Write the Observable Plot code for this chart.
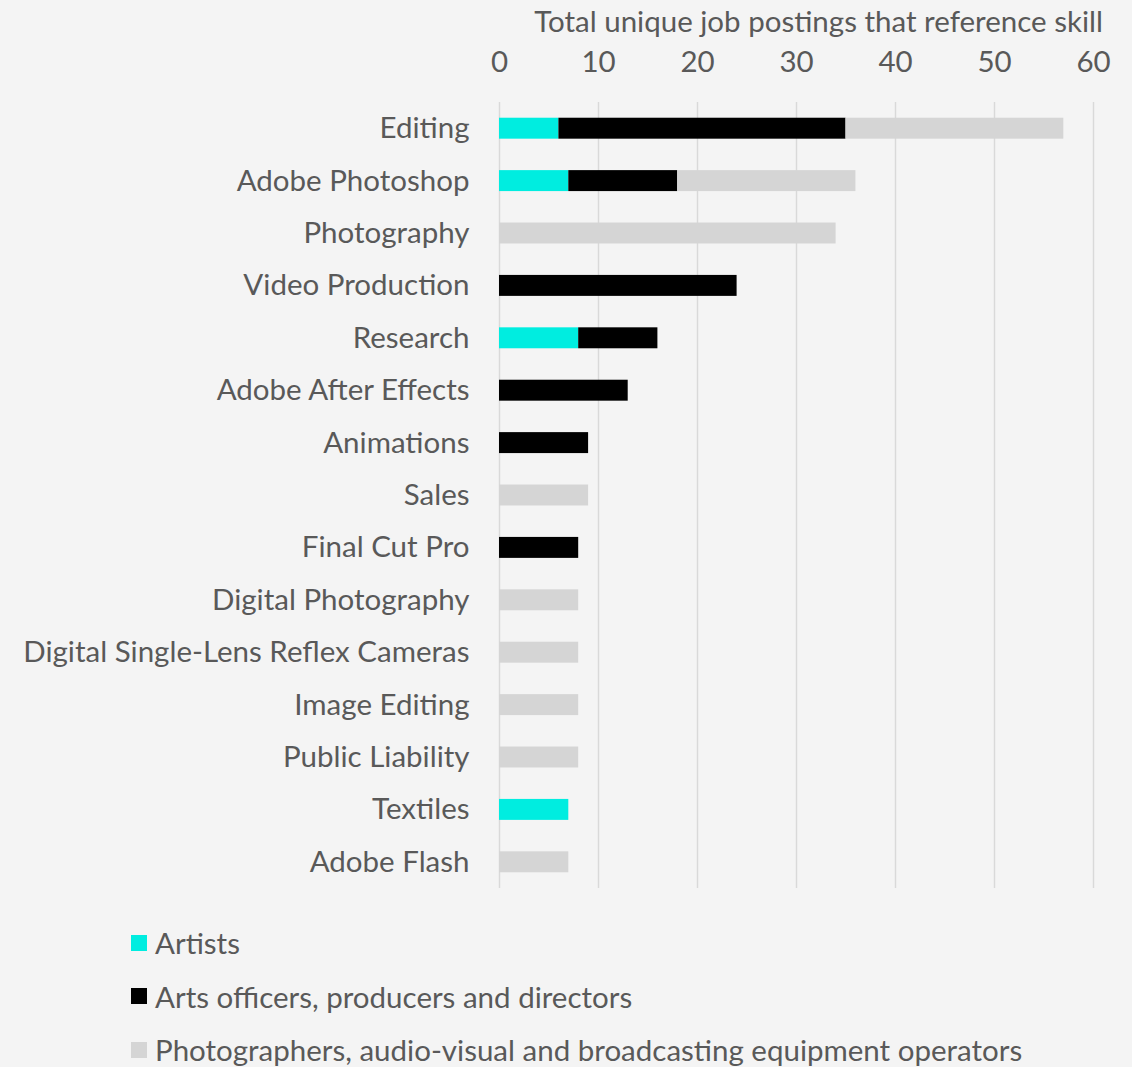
<!DOCTYPE html>
<html>
<head>
<meta charset="utf-8">
<script src="https://cdn.jsdelivr.net/npm/d3@7"></script>
<script src="https://cdn.jsdelivr.net/npm/@observablehq/plot@0.6"></script>
<style>
  html, body { margin: 0; padding: 0; background: #f4f4f4; }
  body { width: 1132px; height: 1067px; position: relative; overflow: hidden; font-family: Lato, "Open Sans", sans-serif; color: #595959; }
  #title { position: absolute; right: 29px; top: 3px; font-size: 29.5px; white-space: nowrap; }
  #chart { position: absolute; left: 0; top: 0; }
  #legend { position: absolute; left: 131px; top: 916px; font-size: 29.5px; }
  .item { display: flex; align-items: center; height: 53.5px; white-space: nowrap; }
  .sw { width: 16px; height: 16px; margin-right: 8px; flex: none; }
</style>
</head>
<body>
<div id="title">Total unique job postings that reference skill</div>
<div id="chart"></div>
<div id="legend"></div>
<script>
const skills = ["Editing","Adobe Photoshop","Photography","Video Production","Research","Adobe After Effects","Animations","Sales","Final Cut Pro","Digital Photography","Digital Single-Lens Reflex Cameras","Image Editing","Public Liability","Textiles","Adobe Flash"];
const groups = ["Artists","Arts officers, producers and directors","Photographers, audio-visual and broadcasting equipment operators"];
const artists =       [6, 7, 0, 0, 8, 0, 0, 0, 0, 0, 0, 0, 0, 7, 0];
const officers =      [29, 11, 0, 24, 8, 13, 9, 0, 8, 0, 0, 0, 0, 0, 0];
const photographers = [22, 18, 34, 0, 0, 0, 0, 9, 0, 8, 8, 8, 8, 0, 7];
const xTicks = [0, 10, 20, 30, 40, 50, 60];
const colors = ["#00ede0", "#000000", "#d5d5d5"];

const series = [artists, officers, photographers];
const data = [];
skills.forEach((s, i) => {
  series.forEach((vals, g) => {
    if (vals[i] > 0) data.push({skill: s, group: groups[g], value: vals[i]});
  });
});

const chart = Plot.plot({
  width: 1132,
  height: 900,
  marginLeft: 499,
  marginRight: 39,
  marginTop: 102,
  marginBottom: 12,
  style: {background: "transparent", fontFamily: "Lato, 'Open Sans', sans-serif", fontSize: "29.5px", color: "#595959"},
  x: {domain: [0, 60], ticks: xTicks, axis: null},
  y: {domain: skills, paddingInner: 0.6, paddingOuter: 0.3, round: false, axis: null},
  color: {domain: groups, range: colors},
  marks: [
    Plot.gridX(xTicks, {stroke: "#d9d9d9", strokeOpacity: 1, strokeWidth: 1.5}),
    Plot.axisX({anchor: "top", ticks: xTicks, tickSize: 0, tickPadding: 31, label: null, fontSize: 29.5}),
    Plot.barX(data, {x: "value", y: "skill", fill: "group"}),
    Plot.axisY({anchor: "left", tickSize: 0, tickPadding: 30, label: null, fontSize: 29.5})
  ]
});
document.getElementById("chart").appendChild(chart);

const legend = document.getElementById("legend");
groups.forEach((g, i) => {
  const d = document.createElement("div");
  d.className = "item";
  d.innerHTML = `<span class="sw" style="background:${colors[i]}"></span><span>${g}</span>`;
  legend.appendChild(d);
});
</script>
</body>
</html>
